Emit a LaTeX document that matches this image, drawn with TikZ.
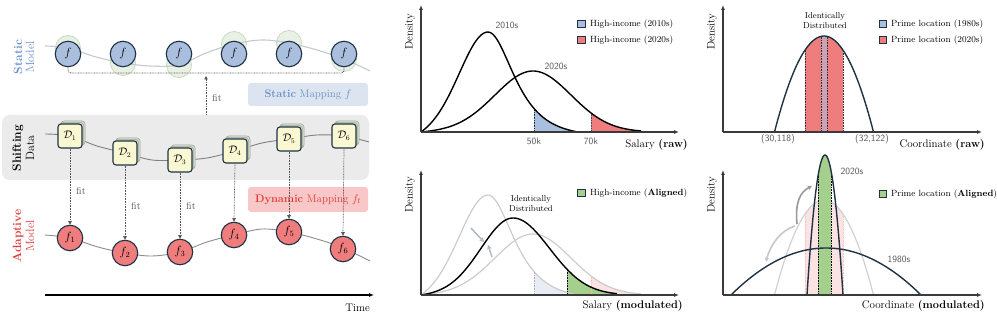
\documentclass[tikz,border=0pt]{standalone}
\usepackage{amsmath}
\usetikzlibrary{arrows.meta,shadows,calc}
\definecolor{navy}{HTML}{1F3345}
\definecolor{cblue}{HTML}{AABFDD}
\definecolor{cred}{HTML}{EF7D7D}
\definecolor{cyell}{HTML}{F9F8D2}
\definecolor{ghostf}{HTML}{E6EFE0}
\definecolor{ghostd}{HTML}{C5D6BE}
\definecolor{sblue}{HTML}{6A8FCB}
\definecolor{smapfill}{HTML}{DCE4F0}
\definecolor{dred}{HTML}{E23B3B}
\definecolor{dmapfill}{HTML}{F8C7C7}
\definecolor{databg}{HTML}{EBEBEB}
\definecolor{scurve}{HTML}{C2CACF}
\definecolor{lgreen}{HTML}{A5CF8C}
\definecolor{mauve}{HTML}{C9A2B6}
\definecolor{pinkl}{HTML}{FBE3E3}
\definecolor{bluel}{HTML}{E8EDF5}
\definecolor{axgray}{HTML}{3A3A3A}
\definecolor{txtgray}{HTML}{555555}
\definecolor{stackf}{HTML}{D3D9CC}
\definecolor{stackd}{HTML}{9FA89A}
\definecolor{arrgray}{HTML}{A9B6C3}
\begin{document}
\begin{tikzpicture}[x=1pt,y=-1pt,
  declare function={
    gA(\t)=(\t<67) ? 100*exp(-((\t-67)/28)*((\t-67)/28)/2)*(1-exp(-\t/8)) : 100*(1/cosh((\t-67)/23)-0.04)/0.96;
    gB(\t)=61*exp(-((\t-112)/38)*((\t-112)/38)/2)*(1-exp(-\t/8));
    sC(\t)=(\t<92) ? 32 : 36.5;
    gC(\t)=77*exp(-((\t-92)/sC(\t))*((\t-92)/sC(\t))/2)*(1-exp(-\t/8));
    pq(\u)=1-\u*\u;
  },
  sfn/.style={circle, draw=navy, line width=1.1pt, fill=cblue, minimum size=25.5pt, inner sep=0pt, font=\fontsize{12}{12}\selectfont},
  afn/.style={sfn, fill=cred},
  ghost/.style={circle, draw=ghostd, fill=ghostf, minimum size=25pt, inner sep=0pt, line width=0.8pt, opacity=0.9},
  dnode/.style={rectangle, rounded corners=3pt, draw=navy, line width=1.1pt, fill=cyell, minimum size=24pt, inner sep=0pt, font=\fontsize{10.5}{11}\selectfont,
     double copy shadow={shadow xshift=1.5pt, shadow yshift=1.5pt, fill=stackf, draw=stackd, line width=0.5pt}},
  fitline/.style={draw=txtgray, line width=0.7pt, dash pattern=on 0.8pt off 0.8pt, -{Triangle[length=3.5pt,width=3.5pt]}},
  fitlbl/.style={font=\fontsize{10}{10}\selectfont, text=txtgray, anchor=west, inner sep=1pt},
  sidelbl/.style={rotate=90, font=\fontsize{12}{13}\selectfont, inner sep=0pt},
  mapbox/.style={rectangle, rounded corners=3pt, minimum width=120pt, inner sep=0pt, font=\fontsize{11}{12}\selectfont},
  axisline/.style={line width=1.3pt, draw=axgray, -{Latex[length=5pt,width=4pt]}},
  curveb/.style={line width=1.4pt, draw=black},
  curven/.style={line width=1.4pt, draw=navy},
  curveg/.style={line width=1.2pt, draw=black!20},
  dotl/.style={line width=0.8pt, dash pattern=on 0.8pt off 0.8pt},
  axlbl/.style={font=\fontsize{11}{12}\selectfont, inner sep=0pt},
  denslbl/.style={rotate=90, font=\fontsize{11}{12}\selectfont, inner sep=0pt},
  legsq/.style={rectangle, draw=navy, line width=0.7pt, minimum size=7.5pt, inner sep=0pt},
  legtxt/.style={anchor=west, font=\fontsize{9}{10}\selectfont, inner sep=0pt},
  numlbl/.style={font=\sffamily\fontsize{9.5}{10}\selectfont, text=txtgray, inner sep=0pt},
  idlbl/.style={font=\fontsize{8.5}{10}\selectfont, align=center, inner sep=0pt},
  softarr/.style={line width=1.6pt, draw=arrgray, -{Stealth[length=4.5pt,width=4.5pt]}}
]
\useasboundingbox (0,0) rectangle (997,320);

%% ---------------- left panel ----------------
\node[rectangle, rounded corners=8pt, fill=databg, minimum width=367pt, minimum height=65pt, inner sep=0pt] (dbox) at (185.5,147.5) {};
\node[mapbox, fill=smapfill, minimum height=23pt, text=sblue] (smap) at (308,94.5) {\textbf{Static} Mapping $f$};
\node[mapbox, fill=dmapfill, minimum height=25pt, text=dred] (dmap) at (308,199.5) {\textbf{Dynamic} Mapping $f_t$};

\node[sidelbl, text=sblue, font=\bfseries\fontsize{12}{13}\selectfont] (lst) at (18,57) {Static};
\node[sidelbl, text=sblue] (lsm) at (30,57) {Model};
\node[sidelbl, font=\bfseries\fontsize{12}{13}\selectfont] (lsh) at (18,148) {Shifting};
\node[sidelbl] (lsd) at (30,148) {Data};
\node[sidelbl, text=dred, font=\bfseries\fontsize{12}{13}\selectfont] (lad) at (18,236) {Adaptive};
\node[sidelbl, text=dred] (lam) at (30,236) {Model};

% static ghosts and curve
\foreach \i/\x/\y in {1/68/48,2/123/63,3/179/65,4/234/44,5/289/43,6/344/59}
  \node[ghost] (g\i) at (\x,\y) {};
\draw[scurve, line width=1.1pt] plot[smooth, tension=0.55] coordinates {(45,46) (68,48) (96,57) (123,63) (150,66) (179,65) (206,53) (234,44) (262,40) (289,43) (317,50) (344,59) (370,71)};
\foreach \i/\x in {1/68,2/123,3/179,4/234,5/289,6/344}
  \node[sfn] (s\i) at (\x,54) {$f$};

% data curve and nodes
\draw[black!50, line width=0.9pt] plot[smooth, tension=0.55] coordinates {(45,134) (70,136) (97,146) (125,153) (152,160) (180,160) (207,158) (235,151) (262,143) (289,139) (317,135) (344,136) (369,142)};
\foreach \i/\x/\y in {1/70/136,2/125/153,3/180/160,4/235/151,5/289/139,6/344/136}
  \node[dnode] (d\i) at (\x,\y) {$\mathcal{D}_{\i}$};

% adaptive curve and nodes
\draw[black!45, line width=0.9pt] plot[smooth, tension=0.55] coordinates {(45,235) (70,238) (98,247) (125,253) (152,256) (180,252) (207,242) (234,235) (262,229) (289,232) (317,239) (343,248) (370,261)};
\foreach \i/\x/\y in {1/70/238,2/125/253,3/180/252,4/234/235,5/289/232,6/343/249}
  \node[afn] (a\i) at (\x,\y) {$f_{\i}$};

% fit connectors
\foreach \i in {1,...,6}
  \draw[fitline] (d\i.south) -- (a\i.north);
\node[fitlbl] (fit1) at (75,191) {fit};
\node[fitlbl] (fit2) at (130,206) {fit};
\node[fitlbl] (fit3) at (185,206) {fit};

\coordinate (brk) at (206,73);
\coordinate (fittop) at (206,76);
\draw[txtgray, line width=0.7pt, dash pattern=on 0.8pt off 0.8pt, rounded corners=3pt] (s1.south) |- (brk) -| (s6.south);
\draw[fitline] (dbox.north -| fittop) -- (fittop);
\node[fitlbl] (fit0) at (211,98) {fit};

% time axis
\coordinate (t0) at (45,295);
\coordinate (t1) at (374,295);
\draw[line width=1.3pt, -{Latex[length=5pt,width=4pt]}] (t0) -- (t1);
\node[axlbl, anchor=east] (timelbl) at (370,308) {Time};

%% ---------------- panel A ----------------
\fill[cblue] (534,132) -- plot[domain=113:157, samples=30] ({421+\x},{132-gA(\x)}) -- (578,132) -- cycle;
\fill[cred] (591,132) -- plot[domain=170:220, samples=30] ({421+\x},{132-gB(\x)}) -- (641,132) -- cycle;
\draw[dotl, navy] (534,132) -- (534,{132-gA(113)});
\draw[dotl, black!70] (591,132) -- (591,{132-gB(170)});
\draw[curveb] plot[domain=0:157, samples=90] ({421+\x},{132-gA(\x)});
\draw[curveb] plot[domain=0:220, samples=90] ({421+\x},{132-gB(\x)});
\draw[axisline] (421,132) -- (421,5);
\draw[axisline] (421,132) -- (679,132);
\node[denslbl] (densA) at (410,32) {Density};
\node[numlbl] (yA1) at (507,25) {2010s};
\node[numlbl] (yA2) at (556,66) {2020s};
\node[numlbl] (k50) at (534,141) {50k};
\node[numlbl] (k70) at (591,141) {70k};
\node[axlbl, anchor=east] (xA) at (688,145) {Salary \textbf{(raw)}};
\node[legsq, fill=cblue] (lA1) at (581.5,24) {};
\node[legtxt] (tA1) at (590,24) {High-income (2010s)};
\node[legsq, fill=cred] (lA2) at (581.5,40) {};
\node[legtxt] (tA2) at (590,40) {High-income (2020s)};

%% ---------------- panel B ----------------
\fill[bluel] (534,295) -- plot[domain=113:157, samples=30] ({421+\x},{295-gA(\x)}) -- (578,295) -- cycle;
\fill[pinkl] (591,295) -- plot[domain=170:220, samples=30] ({421+\x},{295-gB(\x)}) -- (641,295) -- cycle;
\fill[lgreen] (567,295) -- plot[domain=146:196, samples=30] ({421+\x},{295-gC(\x)}) -- (617,295) -- cycle;
\draw[curveg] plot[domain=0:157, samples=90] ({421+\x},{295-gA(\x)});
\draw[curveg] plot[domain=0:220, samples=90] ({421+\x},{295-gB(\x)});
\draw[dotl, black!30] (534,295) -- (534,{295-gA(113)});
\draw[dotl, red!25] (591,295) -- (591,{295-gB(170)});
\draw[dotl, black] (567,295) -- (567,{295-gC(146)});
\draw[curveb] plot[domain=0:196, samples=90] ({421+\x},{295-gC(\x)});
\coordinate (bA1) at (471,228);
\coordinate (bA2) at (484,242);
\coordinate (bB1) at (492,257);
\coordinate (bB2) at (488,245);
\draw[softarr, line width=1.4pt] (bA1) -- (bA2);
\draw[softarr, line width=1.4pt] (bB1) -- (bB2);
\draw[axisline] (421,295) -- (421,170);
\draw[axisline] (421,295) -- (679,295);
\node[denslbl] (densB) at (410,195) {Density};
\node[idlbl] (idB) at (531,204) {Identically\\Distributed};
\node[axlbl, anchor=east] (xB) at (683,306) {Salary \textbf{(modulated)}};
\node[legsq, fill=lgreen] (lB1) at (581.5,193) {};
\node[legtxt] (tB1) at (590,193) {High-income (\textbf{Aligned})};

%% ---------------- panel C ----------------
\fill[cred] (805,132) -- plot[domain=-19:19, samples=20] ({824+\x},{132-96*pq(\x/49.5)}) -- (843,132) -- cycle;
\fill[mauve] (821,132) -- plot[domain=-3:3, samples=5] ({824+\x},{132-96*pq(\x/49.5)}) -- (827,132) -- cycle;
\foreach \u in {-19,-3,3,19}
  \draw[dotl, black!80] ({824+\u},132) -- ({824+\u},{132-96*pq(\u/49.5)});
\draw[curven] plot[domain=-49.5:49.5, samples=60] ({824+\x},{132-96*pq(\x/49.5)});
\draw[axisline] (723,132) -- (723,5);
\draw[axisline] (723,132) -- (982,132);
\node[denslbl] (densC) at (712,32) {Density};
\node[idlbl] (idC) at (825,21) {Identically\\Distributed};
\node[numlbl] (c1) at (778,139) {(30,118)};
\node[numlbl] (c2) at (872,139) {(32,122)};
\node[axlbl, anchor=east] (xC) at (985,145) {Coordinate \textbf{(raw)}};
\node[legsq, fill=cblue] (lC1) at (883,24) {};
\node[legtxt] (tC1) at (891,24) {Prime location (1980s)};
\node[legsq, fill=cred] (lC2) at (883,40) {};
\node[legtxt] (tC2) at (891,40) {Prime location (2020s)};

%% ---------------- panel D ----------------
\fill[pinkl] (805,295) -- plot[domain=-19:19, samples=20] ({824+\x},{295-95*pq(\x/49.5)}) -- (843,295) -- cycle;
\foreach \u in {-19,19}
  \draw[dotl, red!25] ({824+\u},295) -- ({824+\u},{295-95*pq(\u/49.5)});
\draw[curveg, draw=black!18] plot[domain=-49.5:49.5, samples=60] ({824+\x},{295-95*pq(\x/49.5)});
\fill[lgreen] (818,295) -- plot[domain=-7:6, samples=10] ({825+\x},{295-140*pq(\x/18)}) -- (831,295) -- cycle;
\foreach \u in {-7,6}
  \draw[dotl, black] ({825+\u},295) -- ({825+\u},{295-140*pq(\u/18)});
\draw[curven] plot[domain=-95:95, samples=80] ({826+\x},{295-47*pq(\x/95)});
\draw[curven] plot[domain=-18:18, samples=50] ({825+\x},{295-140*pq(\x/18)});
\coordinate (dA0) at (797,224);
\coordinate (dA1) at (812,186);
\coordinate (dB0) at (795,226);
\coordinate (dB1) at (766,262);
\draw[softarr, draw=black!40] (dA0) .. controls (795,202) and (800,192) .. (dA1);
\draw[softarr, draw=black!22] (dB0) .. controls (781,230) and (770,245) .. (dB1);
\draw[axisline] (723,295) -- (723,170);
\draw[axisline] (723,295) -- (982,295);
\node[denslbl] (densD) at (712,195) {Density};
\node[numlbl] (yD1) at (852,171) {2020s};
\node[numlbl] (yD2) at (899,259) {1980s};
\node[axlbl, anchor=east] (xD) at (985,306) {Coordinate \textbf{(modulated)}};
\node[legsq, fill=lgreen] (lD1) at (883,194) {};
\node[legtxt] (tD1) at (891,194) {Prime location (\textbf{Aligned})};
\end{tikzpicture}
\end{document}
